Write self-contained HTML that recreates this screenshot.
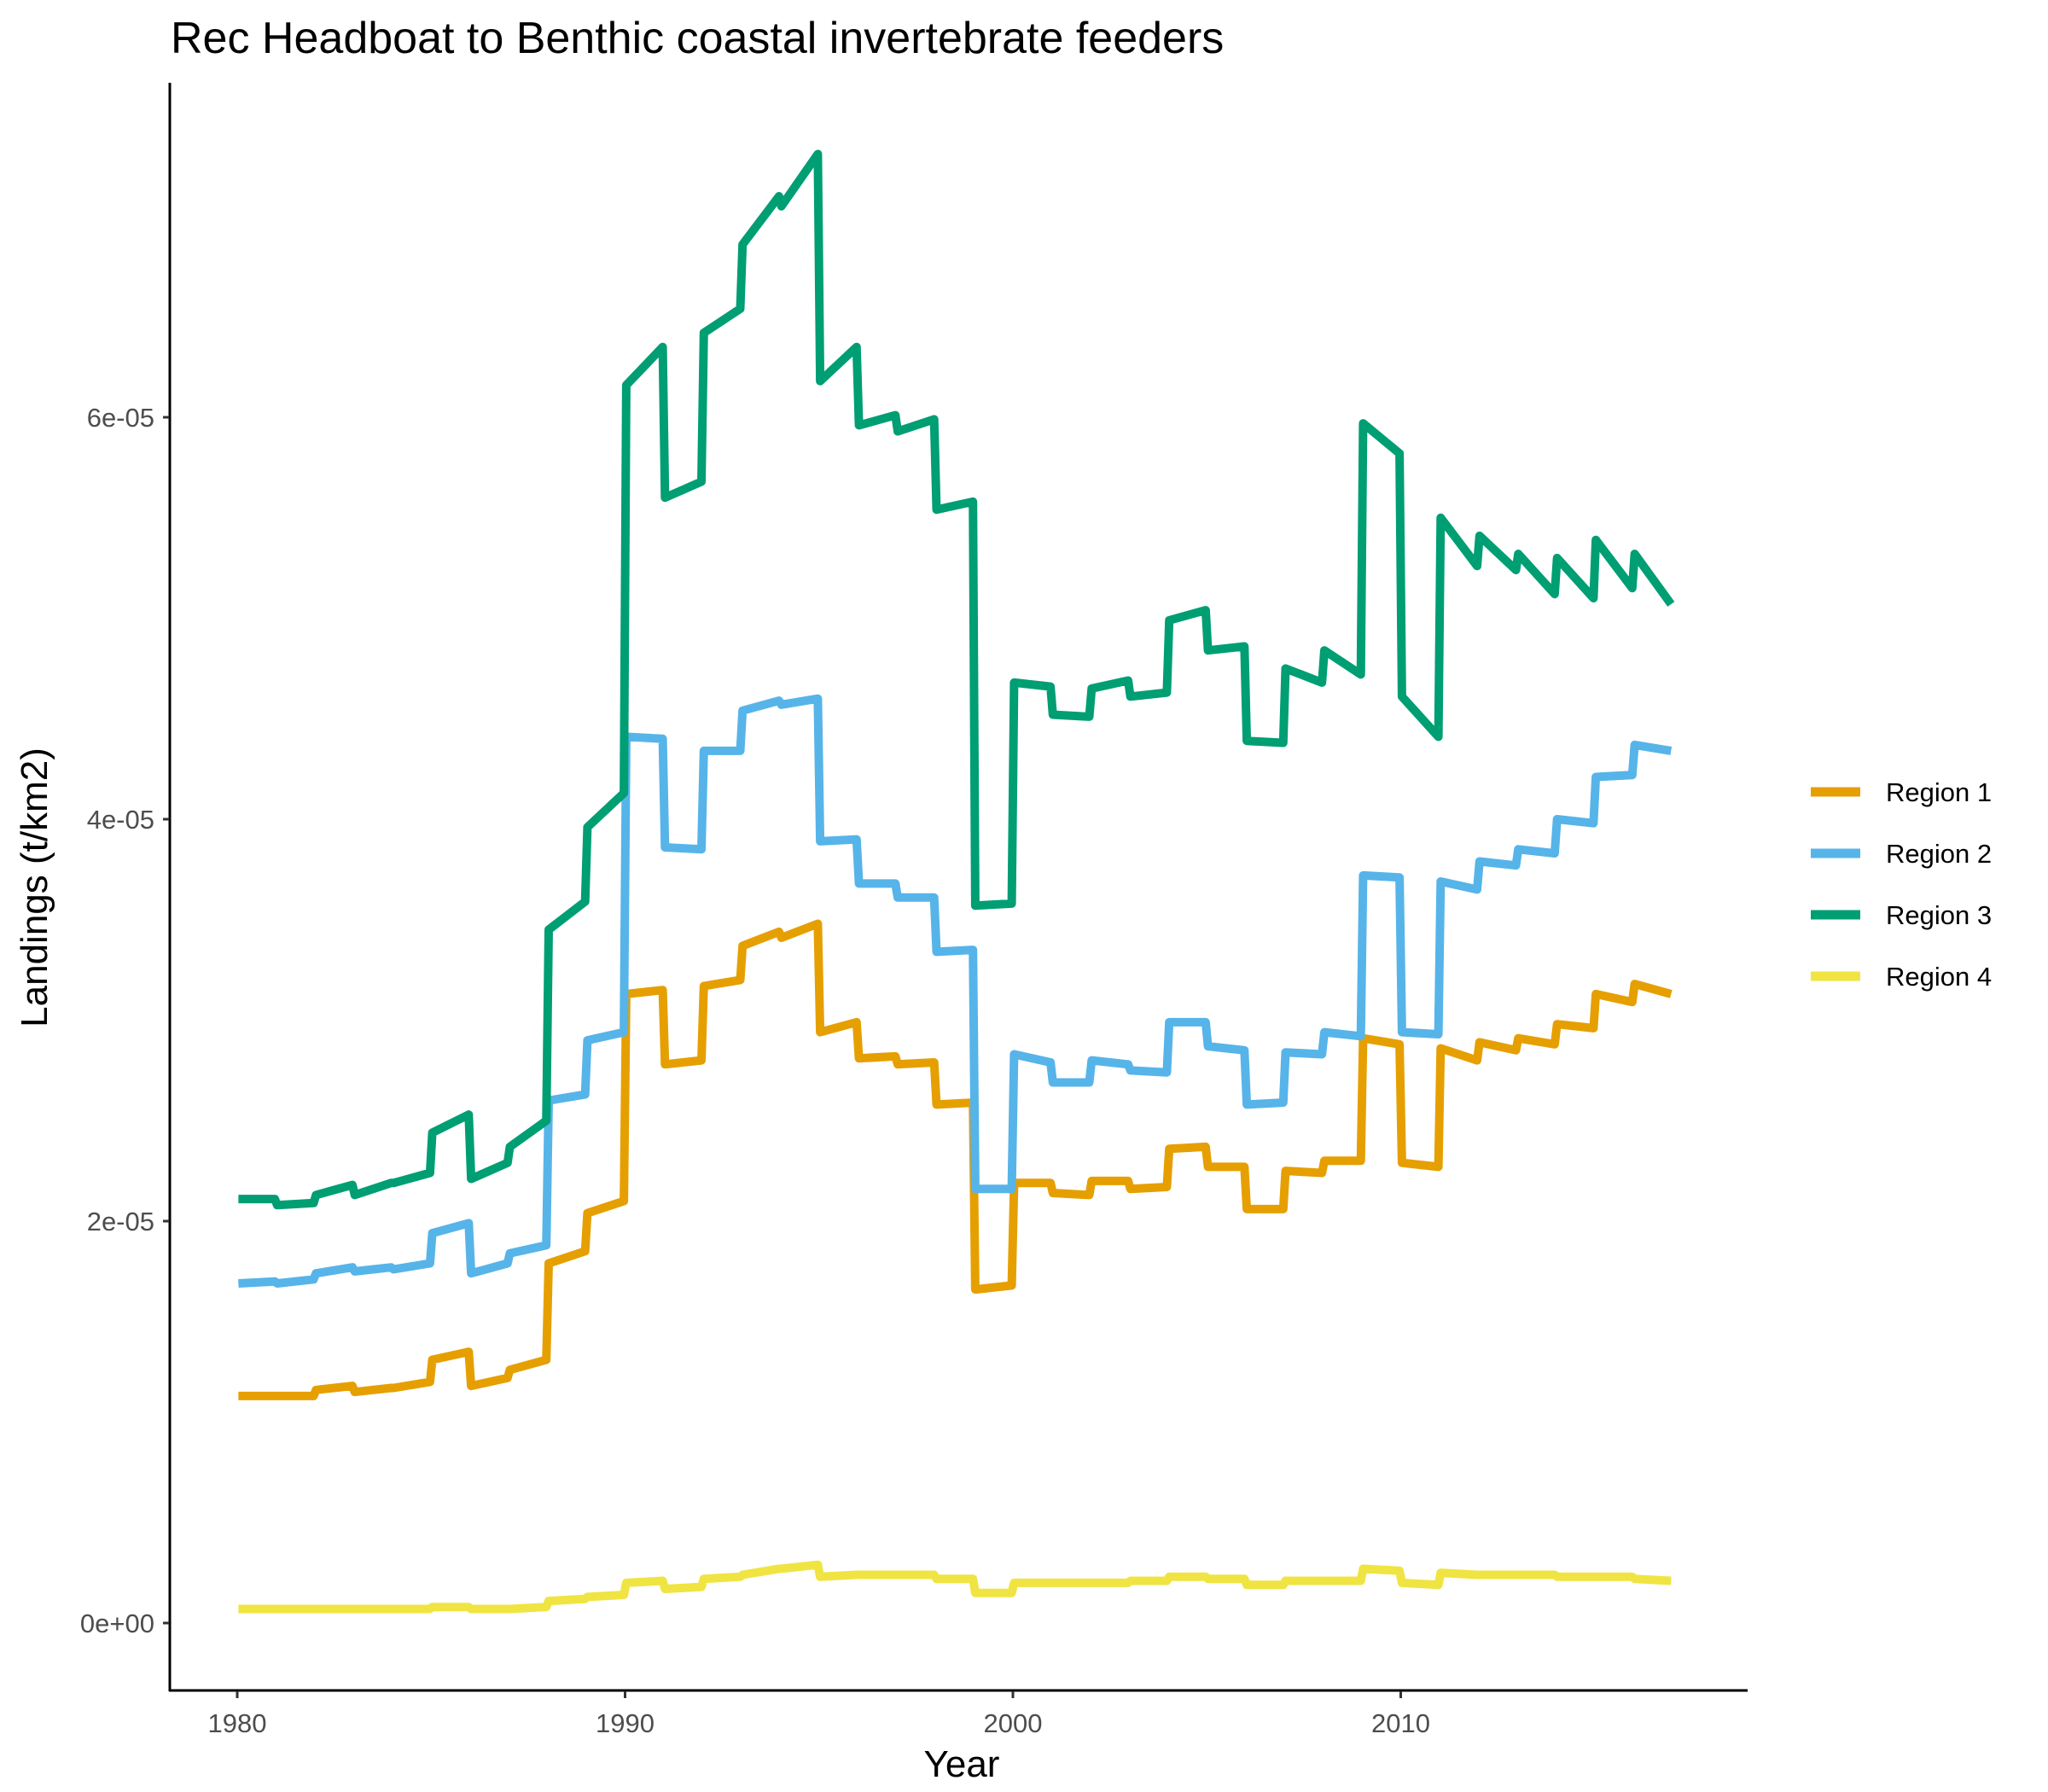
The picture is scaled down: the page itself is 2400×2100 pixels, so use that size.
<!DOCTYPE html>
<html><head><meta charset="utf-8"><style>
html,body{margin:0;padding:0;background:#fff;}
svg{display:block;font-family:"Liberation Sans",Arial,sans-serif;}
</style></head><body>
<svg id="chart" width="2400" height="2100" viewBox="0 0 2400 2100">
<text x="200" y="62" font-size="52" fill="#000">Rec Headboat to Benthic coastal invertebrate feeders</text>
<g id="plot"></g>
<line x1="199" y1="97" x2="199" y2="1982" stroke="#000" stroke-width="3"/>
<line x1="198" y1="1981" x2="2048" y2="1981" stroke="#000" stroke-width="3"/>
<g id="yticks"></g>
<g id="xticks"></g>
<text x="1127" y="2082" font-size="44" text-anchor="middle" fill="#000">Year</text>
<text transform="translate(55,1040) rotate(-90)" font-size="44" text-anchor="middle" fill="#000">Landings (t/km2)</text>
<g id="legend"></g>
</svg>
<script>
const years = [1980,1981,1982,1983,1984,1985,1986,1987,1988,1989,1990,1991,1992,1993,1994,1995,1996,1997,1998,1999,2000,2001,2002,2003,2004,2005,2006,2007,2008,2009,2010,2011,2012,2013,2014,2015,2016];
// values in units of 1e-05 t/km2: value at start of year, value at end of year
const region1Start = [1.13,1.13,1.16,1.15,1.17,1.31,1.18,1.26,1.79,2.04,3.13,2.78,3.17,3.37,3.41,2.94,2.81,2.78,2.58,1.66,2.19,2.14,2.20,2.16,2.36,2.27,2.06,2.25,2.30,2.91,2.29,2.86,2.89,2.91,2.98,3.13,3.18];
const region1End   = [1.13,1.13,1.18,1.17,1.20,1.35,1.22,1.31,1.85,2.10,3.15,2.80,3.20,3.44,3.48,2.99,2.82,2.79,2.59,1.68,2.19,2.13,2.20,2.17,2.37,2.27,2.06,2.24,2.30,2.88,2.27,2.80,2.85,2.88,2.96,3.09,3.13];
const region2Start = [1.69,1.69,1.74,1.75,1.76,1.94,1.74,1.84,2.60,2.90,4.41,3.86,4.34,4.54,4.57,3.89,3.68,3.61,3.34,2.16,2.83,2.69,2.80,2.75,2.99,2.87,2.58,2.84,2.94,3.72,2.94,3.69,3.79,3.85,4.00,4.21,4.37];
const region2End   = [1.70,1.71,1.77,1.77,1.79,1.99,1.79,1.88,2.63,2.94,4.40,3.85,4.34,4.59,4.60,3.90,3.68,3.61,3.35,2.16,2.79,2.69,2.78,2.74,2.99,2.85,2.59,2.83,2.92,3.71,2.93,3.65,3.77,3.83,3.98,4.22,4.34];
const region3Start = [2.11,2.08,2.13,2.13,2.19,2.44,2.21,2.37,3.45,3.96,6.16,5.60,6.42,6.86,7.05,6.18,5.96,5.93,5.54,3.57,4.68,4.52,4.65,4.61,4.99,4.84,4.39,4.75,4.84,5.97,4.61,5.50,5.41,5.32,5.30,5.39,5.32];
const region3End   = [2.11,2.09,2.18,2.19,2.24,2.53,2.29,2.50,3.59,4.13,6.35,5.68,6.54,7.10,7.31,6.35,6.01,5.99,5.58,3.58,4.66,4.51,4.69,4.63,5.04,4.86,4.38,4.68,4.72,5.82,4.41,5.26,5.24,5.12,5.10,5.15,5.07];
const region4Start = [0.07,0.07,0.07,0.07,0.07,0.08,0.07,0.07,0.11,0.13,0.20,0.17,0.22,0.24,0.27,0.23,0.24,0.24,0.22,0.15,0.20,0.20,0.20,0.21,0.23,0.22,0.19,0.21,0.21,0.27,0.20,0.25,0.24,0.24,0.23,0.23,0.22];
const region4End   = [0.07,0.07,0.07,0.07,0.07,0.08,0.07,0.08,0.12,0.14,0.21,0.18,0.23,0.27,0.29,0.24,0.24,0.24,0.22,0.15,0.20,0.20,0.20,0.21,0.23,0.22,0.19,0.21,0.21,0.26,0.19,0.24,0.24,0.24,0.23,0.23,0.21];
const seriesNames = ["Region 1","Region 2","Region 3","Region 4"];
const yTickValues = [0,2,4,6];
const yTickLabels = ["0e+00","2e-05","4e-05","6e-05"];
const xTickValues = [1980,1990,2000,2010];

const colors = ["#E69F00","#56B4E9","#009E73","#F0E442"];
const NS = "http://www.w3.org/2000/svg";
function xScale(yr){ return 278 + (yr-1980)*45.45; }
function yScale(v){ return 1902 - v*235.5; }

const plot = document.getElementById('plot');
const starts = [region1Start,region2Start,region3Start,region4Start];
const ends = [region1End,region2End,region3End,region4End];
for (let s=0;s<4;s++){
  let pts=[];
  for (let i=0;i<years.length;i++){
    pts.push(xScale(years[i]+0.03).toFixed(1)+","+yScale(starts[s][i]).toFixed(1));
    pts.push(xScale(years[i]+0.97).toFixed(1)+","+yScale(ends[s][i]).toFixed(1));
  }
  const pl=document.createElementNS(NS,'polyline');
  pl.setAttribute('points',pts.join(' '));
  pl.setAttribute('fill','none');
  pl.setAttribute('stroke',colors[s]);
  pl.setAttribute('stroke-width','10');
  pl.setAttribute('stroke-linejoin','round');
  
  
  plot.appendChild(pl);
}

const yt=document.getElementById('yticks');
for (let i=0;i<yTickValues.length;i++){
  const y=yScale(yTickValues[i]);
  const l=document.createElementNS(NS,'line');
  l.setAttribute('x1',191);l.setAttribute('x2',198);l.setAttribute('y1',y);l.setAttribute('y2',y);
  l.setAttribute('stroke','#333');l.setAttribute('stroke-width','3');
  
  
  yt.appendChild(l);
  const t=document.createElementNS(NS,'text');
  t.setAttribute('x',181);t.setAttribute('y',y+11);t.setAttribute('text-anchor','end');
  t.setAttribute('font-size','31');t.setAttribute('fill','#4d4d4d');
  t.textContent=yTickLabels[i];
  
  
  yt.appendChild(t);
}
const xt=document.getElementById('xticks');
for (let i=0;i<xTickValues.length;i++){
  const x=xScale(xTickValues[i]);
  const l=document.createElementNS(NS,'line');
  l.setAttribute('x1',x);l.setAttribute('x2',x);l.setAttribute('y1',1982);l.setAttribute('y2',1990);
  l.setAttribute('stroke','#333');l.setAttribute('stroke-width','3');
  
  
  xt.appendChild(l);
  const t=document.createElementNS(NS,'text');
  t.setAttribute('x',x);t.setAttribute('y',2030);t.setAttribute('text-anchor','middle');
  t.setAttribute('font-size','31');t.setAttribute('fill','#4d4d4d');
  t.textContent=String(xTickValues[i]);
  
  
  xt.appendChild(t);
}
const lg=document.getElementById('legend');
for (let s=0;s<4;s++){
  const y=928+s*72;
  const g=document.createElementNS(NS,'g');
  
  
  const l=document.createElementNS(NS,'line');
  l.setAttribute('x1',2122);l.setAttribute('x2',2180);l.setAttribute('y1',y);l.setAttribute('y2',y);
  l.setAttribute('stroke',colors[s]);l.setAttribute('stroke-width','11');
  g.appendChild(l);
  const t=document.createElementNS(NS,'text');
  t.setAttribute('x',2210);t.setAttribute('y',y+11);t.setAttribute('font-size','31');t.setAttribute('fill','#000');
  t.textContent=seriesNames[s];
  g.appendChild(t);
  lg.appendChild(g);
}
</script>
</body></html>
